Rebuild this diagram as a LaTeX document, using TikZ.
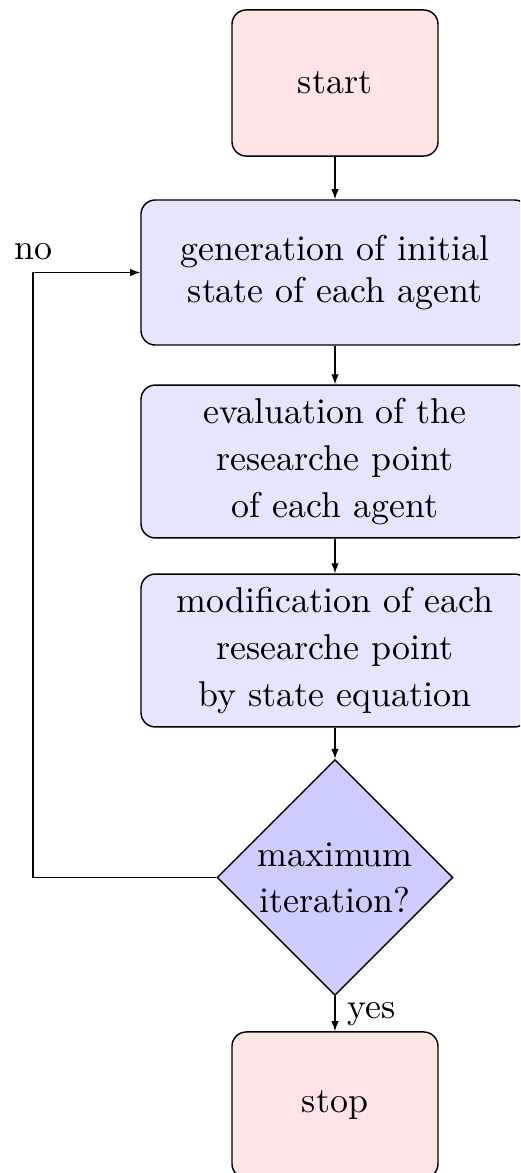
\documentclass[tikz,border=0pt]{standalone}
\usetikzlibrary{shapes.geometric,arrows.meta}

\tikzset{
  base/.style={draw=black, line width=0.4pt, align=center, inner sep=0pt},
  term/.style={base, fill=red!10, rounded corners=4pt,
    minimum width=57.4pt, minimum height=40.7pt},
  proc/.style={base, fill=blue!10, rounded corners=4pt,
    minimum width=108.1pt, minimum height=42.6pt,
    font=\fontsize{10}{13}\selectfont},
  decision/.style={base, diamond, aspect=1, fill=blue!20,
    minimum width=65.7pt, minimum height=65.7pt,
    font=\fontsize{10}{12.8}\selectfont},
  arr/.style={draw=black, line width=0.4pt, -{Latex[length=2.8pt,width=2.1pt]}}
}

\begin{document}
\begin{tikzpicture}[x=0.2786pt, y=-0.2786pt]
  \clip (0,0) rectangle (520,1173);

  % process chain
  \node[term] (start) at (335,83) {start};
  \node[proc, minimum height=40.4pt, font=\fontsize{10}{11.6}\selectfont]
    (gen) at (335,272.5) {generation of initial\\state of each agent};
  \node[proc] (eval) at (335,461.5) {evaluation of the\\researche point\\of each agent};
  \node[proc] (mod) at (335,650.5) {modification of each\\researche point\\by state equation};
  \node[decision] (dec) at (335,877.5) {maximum\\iteration?};
  \node[term] (stop) at (335,1105) {stop};

  % connectors
  \draw[arr] (start.south) -- (gen.north);
  \draw[arr] (gen.south) -- (eval.north);
  \draw[arr] (eval.south) -- (mod.north);
  \draw[arr] (mod.south) -- (dec.north);
  \draw[arr] (dec.south) -- node[right, inner sep=3.33pt] {yes} (stop.north);

  % feedback loop
  \coordinate (loop) at (33,877.5);
  \draw[arr] (dec.west) -- (loop) |- node[pos=0.5, above, inner sep=3.33pt] {no} (gen.west);
\end{tikzpicture}
\end{document}
